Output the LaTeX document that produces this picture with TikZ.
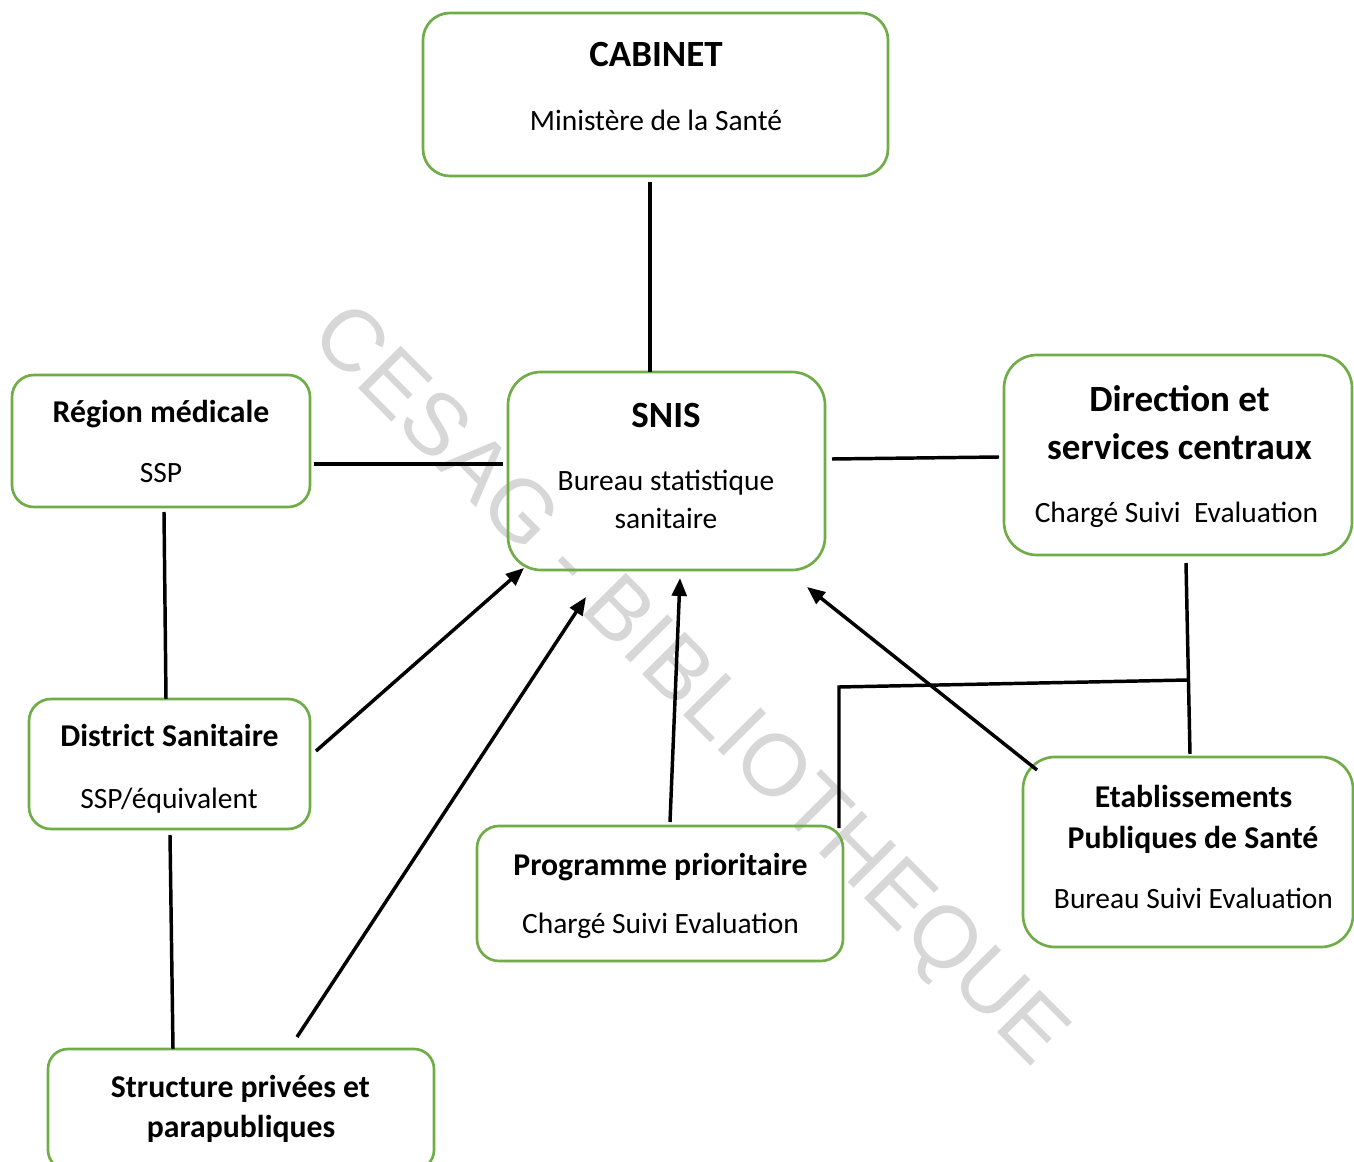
\documentclass[tikz,border=0pt]{standalone}
\usepackage{fontspec}
\setmainfont{Carlito}
\newfontfamily\wmfont{Liberation Sans}
\usetikzlibrary{arrows.meta,calc}
\definecolor{boxgreen}{RGB}{112,173,71}
\definecolor{wmgray}{RGB}{215,215,215}
\begin{document}
\begin{tikzpicture}[x=0.75pt,y=-0.75pt,
  box/.style n args={2}{draw=boxgreen, line width=2pt, fill=none, inner sep=0pt, outer sep=0pt,
     minimum width=#1*0.75pt, minimum height=#2*0.75pt},
  rc/.style={rounded corners=#1*0.75pt},
  bigt/.style={anchor=base, inner sep=0pt, font=\bfseries\fontsize{27.75}{32}\selectfont},
  smallt/.style={anchor=base, inner sep=0pt, font=\bfseries\fontsize{23.8}{28}\selectfont},
  subt/.style={anchor=base, inner sep=0pt, font=\fontsize{22.1}{26}\selectfont},
  link/.style={draw=black, line width=2.6pt},
  arr/.style={link, -{Triangle[length=13.5pt,width=11pt]}}]
\useasboundingbox (0,0) rectangle (1354,1162);
\clip (0,0) rectangle (1354,1162);
\fill[white] (0,0) rectangle (1354,1162);
% watermark
\node[rotate=-45.2, text=wmgray, inner sep=0pt, font=\wmfont\fontsize{65.5}{70}\selectfont] (wm) at (687,688) {CESAG - BIBLIOTHEQUE};
% boxes
\node[box={465}{163}, rc=27] (cab) at (655.5,94.5) {};
\node[box={317}{198}, rc=33] (snis) at (666.5,471) {};
\node[box={298}{132}, rc=22] (reg) at (161,441) {};
\node[box={348}{200}, rc=33] (dir) at (1178,455) {};
\node[box={281}{130}, rc=22] (dist) at (169.5,764) {};
\node[box={366}{135}, rc=22] (prog) at (660,893.5) {};
\node[box={330}{190}, rc=32] (etab) at (1188,852) {};
\node[box={386}{121}, rc=20] (struct) at (241,1109.5) {};
% texts
\node[bigt] (cab1) at (656,67) {CABINET};
\node[subt] (cab2) at (656,131) {Ministère de la Santé};
\node[bigt] (snis1) at (666,428) {SNIS};
\node[subt] (snis2) at (666,491) {Bureau statistique};
\node[subt] (snis3) at (666,529) {sanitaire};
\node[smallt] (reg1) at (161,423) {Région médicale};
\node[subt] (reg2) at (161,483) {SSP};
\node[bigt] (dir1) at (1179.5,412) {Direction et};
\node[bigt] (dir2) at (1179.5,460) {services centraux};
\node[subt] (dir3) at (1176.5,523) {Chargé Suivi\ \ Evaluation};
\node[smallt] (dist1) at (169.5,746) {District Sanitaire};
\node[subt] (dist2) at (169,808) {SSP/équivalent};
\node[smallt] (prog1) at (660.5,875) {Programme prioritaire};
\node[subt] (prog2) at (660.5,933) {Chargé Suivi Evaluation};
\node[smallt] (etab1) at (1193.5,807) {Etablissements};
\node[smallt] (etab2) at (1193,848) {Publiques de Santé};
\node[subt] (etab3) at (1193.5,908) {Bureau Suivi Evaluation};
\node[smallt] (struct1) at (240.5,1097) {Structure privées et};
\node[smallt] (struct2) at (241,1137) {parapubliques};
% connectors
\draw[link] ($(cab.south)+(-5.5,6)$) -- ($(snis.north)+(-16.5,0)$);
\draw[link] ($(reg.east)+(4,23)$) -- ($(snis.west)+(-5,-7)$);
\draw[link] ($(snis.east)+(7,-12)$) -- ($(dir.west)+(-5,2)$);
\draw[link] ($(reg.south)+(3,5)$) -- ($(dist.north)+(-3.5,0)$);
\draw[link] ($(dist.south)+(0.5,6)$) -- ($(struct.north)+(-68,0)$);
\draw[link] ($(dir.south)+(8,8)$) -- ($(etab.north)+(2,-3)$);
\coordinate (jn) at (1188,680);
\draw[link] ($(prog.north east)+(-4,2)$) -- ++(0,-141) -- (jn);
\draw[arr] ($(dist.east)+(6,-13)$) -- ($(snis.south west)+(16,-2)$);
\draw[arr] ($(struct.north)+(56,-12)$) -- ($(snis.south)+(-80.5,27)$);
\draw[arr] ($(prog.north)+(10,-4)$) -- ($(snis.south)+(13.5,8)$);
\draw[arr] ($(etab.north west)+(14,13)$) -- ($(snis.south east)+(-18,17)$);
\end{tikzpicture}
\end{document}
